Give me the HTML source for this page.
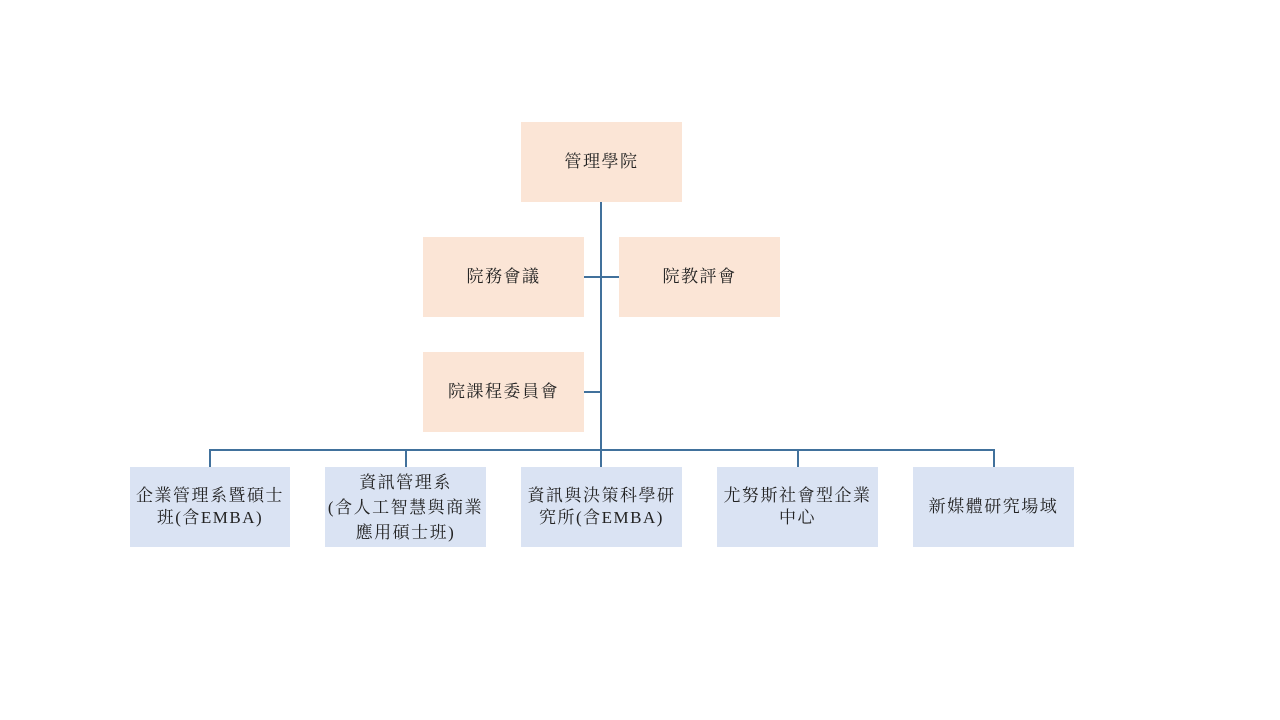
<!DOCTYPE html>
<html><head><meta charset="utf-8"><style>
body{margin:0;width:1280px;height:720px;background:#fff;position:relative;overflow:hidden;font-family:"Liberation Serif","Noto Serif CJK TC","Noto Serif CJK SC",serif;}
.b{position:absolute;display:flex;align-items:center;justify-content:center;text-align:center;font-size:17px;letter-spacing:1.5px;line-height:22px;color:#222;box-sizing:border-box;white-space:nowrap;}
.p{background:#FBE5D6}.q{background:#DAE3F3}
.l{position:absolute;background:#41719C}
</style></head><body>
<div class="l" style="left:600px;top:202px;width:2px;height:265px"></div>
<div class="l" style="left:210px;top:449px;width:785px;height:1.5px"></div>
<div class="l" style="left:584px;top:276px;width:35px;height:1.5px"></div>
<div class="l" style="left:584px;top:391px;width:17px;height:1.5px"></div>
<div class="l" style="left:209px;top:449px;width:1.5px;height:18px"></div>
<div class="l" style="left:405px;top:449px;width:1.5px;height:18px"></div>
<div class="l" style="left:797px;top:449px;width:1.5px;height:18px"></div>
<div class="l" style="left:993px;top:449px;width:1.5px;height:18px"></div>
<div class="b p" style="left:521px;top:122px;width:161px;height:80px">管理學院</div>
<div class="b p" style="left:423px;top:237px;width:161px;height:80px">院務會議</div>
<div class="b p" style="left:619px;top:237px;width:161px;height:80px">院教評會</div>
<div class="b p" style="left:423px;top:352px;width:161px;height:80px">院課程委員會</div>
<div class="b q" style="left:130px;top:467px;width:160px;height:80px">企業管理系暨碩士<br>班(含EMBA)</div>
<div class="b q" style="left:325px;top:467px;width:161px;height:80px;line-height:25px">資訊管理系<br>(含人工智慧與商業<br>應用碩士班)</div>
<div class="b q" style="left:521px;top:467px;width:161px;height:80px">資訊與決策科學研<br>究所(含EMBA)</div>
<div class="b q" style="left:717px;top:467px;width:161px;height:80px">尤努斯社會型企業<br>中心</div>
<div class="b q" style="left:913px;top:467px;width:161px;height:80px">新媒體研究場域</div>
</body></html>
